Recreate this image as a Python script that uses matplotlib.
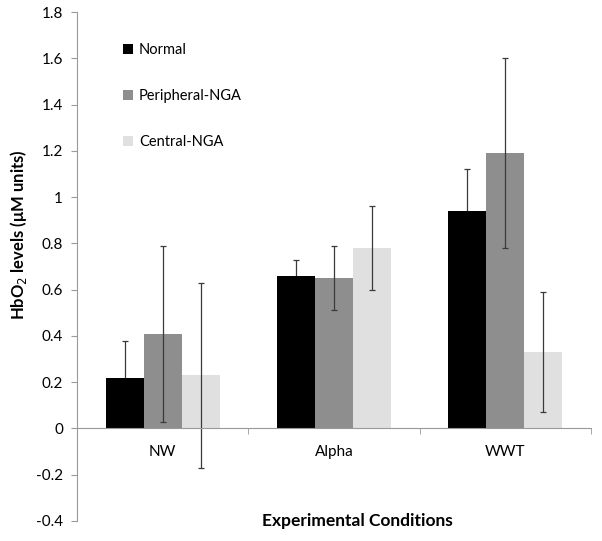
import matplotlib
matplotlib.use("Agg")
import matplotlib.pyplot as plt
import numpy as np

categories = ["NW", "Alpha", "WWT"]
series_names = ["Normal", "Peripheral-NGA", "Central-NGA"]
normal = [0.22, 0.66, 0.94]
peripheral = [0.41, 0.65, 1.19]
central = [0.23, 0.78, 0.33]
normal_err = [0.157, 0.067, 0.18]
peripheral_err = [0.38, 0.138, 0.41]
central_err = [0.40, 0.18, 0.258]
yticks = [-0.4, -0.2, 0, 0.2, 0.4, 0.6, 0.8, 1, 1.2, 1.4, 1.6, 1.8]

colors = ["#000000", "#8e8e8e", "#e0e0e0"]

plt.rcParams['font.family'] = ['Lato', 'DejaVu Sans']

fig = plt.figure(figsize=(6.02, 5.41), dpi=100)
ax = fig.add_axes([77/602, 1-521/541, 514/602, 509/541])

x = np.arange(len(categories))
w = 0.222
vals = [normal, peripheral, central]
errs = [normal_err, peripheral_err, central_err]
for i, (v, e, c, n) in enumerate(zip(vals, errs, colors, series_names)):
    ax.bar(x + (i - 1) * w, v, width=w, color=c, label=n, zorder=2)
    # error bars on black bars are hidden behind the bar below the top
    ez = 1 if i == 0 else 3
    ax.errorbar(x + (i - 1) * w, v, yerr=e, fmt='none', ecolor='#3a3a3a',
                elinewidth=0.9, capsize=2.5, capthick=0.9, zorder=ez)

ax.set_xlim(-0.5, 2.5)
ax.set_ylim(-0.4, 1.8)
ax.set_yticks(yticks)
ax.set_yticklabels(["%g" % t for t in yticks])
ax.set_xticks(x)
ax.set_xticklabels(categories)
ax.set_xticks([-0.5, 0.5, 1.5, 2.5], minor=True)
ax.tick_params(axis='x', which='major', length=0, pad=12, labelsize=11)
ax.tick_params(axis='x', which='minor', length=4, color='#999999', direction='out')
ax.tick_params(axis='y', length=4, color='#999999', direction='out', labelsize=11, pad=6)

for s in ['top', 'right']:
    ax.spines[s].set_visible(False)
ax.spines['bottom'].set_position(('data', 0))
ax.spines['bottom'].set_color('#999999')
ax.spines['left'].set_color('#999999')
ax.spines['bottom'].set_zorder(4)

ax.text(-0.113, 0.562, r"HbO$_2$ levels (μM units)", transform=ax.transAxes,
        rotation=90, ha='center', va='center', fontsize=12, fontweight='bold')
ax.text(0.545, 0.0, "Experimental Conditions", transform=ax.transAxes,
        ha='center', va='center', fontsize=12.5, fontweight='bold')

leg = ax.legend(loc='upper left', bbox_to_anchor=(0.078, 0.95), frameon=False,
                handlelength=0.7, handleheight=0.7, handletextpad=0.4,
                labelspacing=2.2, fontsize=10.5, borderaxespad=0)

fig.savefig("out.png", dpi=100)
